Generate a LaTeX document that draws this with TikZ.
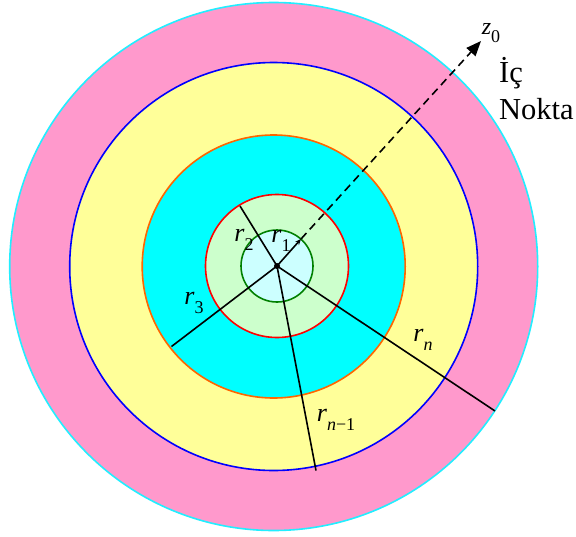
\documentclass[tikz,border=0pt]{standalone}
\usepackage{fontspec}
\setmainfont{Liberation Serif}
\usetikzlibrary{arrows.meta}
\definecolor{pinkring}{HTML}{FF99CC}
\definecolor{yellowring}{HTML}{FFFF99}
\definecolor{cyanring}{HTML}{00FFFF}
\definecolor{greenring}{HTML}{CCFFCC}
\definecolor{corefill}{HTML}{CCFFFF}
\definecolor{outerline}{HTML}{22EEFF}
\definecolor{blueline}{HTML}{0000FF}
\definecolor{orangeline}{HTML}{FF6600}
\definecolor{redline}{HTML}{FF0000}
\definecolor{greenline}{HTML}{008000}
\newcommand\rsub[2]{\textit{#1}\raisebox{-0.35em}{\fontsize{18}{18}\selectfont #2}}
\tikzset{
  ring/.style={line width=1.6pt},
  radius line/.style={line width=1.6pt, black},
  lbl/.style={inner sep=0pt, font=\fontsize{26}{30}\selectfont},
}
\begin{document}
\begin{tikzpicture}[x=1pt,y=-1pt]
\useasboundingbox (0,0) rectangle (576,536);
\coordinate (O) at (277,266);
\coordinate (P) at (273.7,266.5);
% fills
\fill[pinkring] (P) circle (264pt);
\fill[yellowring] (P) circle (204pt);
\fill[cyanring] (P) circle (131.5pt);
\fill[greenring] (O) circle (71.5pt);
\fill[corefill] (O) circle (36pt);
% borders
\draw[ring, outerline] (P) circle (264pt);
\draw[ring, blueline] (P) circle (204pt);
\draw[ring, orangeline] (P) circle (131.5pt);
\draw[ring, redline] (O) circle (71.5pt);
\draw[ring, greenline] (O) circle (36pt);
% end points
\coordinate (e1) at (301,239);
\coordinate (e2) at (240,206);
\coordinate (e3) at (171.5,346.5);
\coordinate (en1) at (316,470.5);
\coordinate (en) at (495,411);
\coordinate (ez) at (481,41);
% radii
\draw[radius line, -{Stealth[length=6pt,width=5pt]}] (O) -- (e1);
\draw[radius line] (O) -- (e2);
\draw[radius line] (O) -- (e3);
\draw[radius line] (O) -- (en1);
\draw[radius line] (O) -- (en);
\draw[radius line, dashed, dash pattern=on 8pt off 5pt, -{Triangle[length=15pt,width=12pt]}] (e1) -- (ez);
\fill (O) circle (3pt);
% labels
\node[lbl] (l1) at (281,241) {\rsub{r}{1}};
\node[lbl] (l2) at (244,240) {\rsub{r}{2}};
\node[lbl] (l3) at (194,303) {\rsub{r}{3}};
\node[lbl] (ln) at (423,340) {\rsub{r}{\textit{n}}};
\node[lbl] (ln1) at (336,420) {\rsub{r}{\textit{n}−1}};
\node[lbl, font=\fontsize{24}{28}\selectfont] (lz) at (491,33) {\rsub{z}{0}};
\node[anchor=base west, align=left, inner sep=0pt, font=\fontsize{30.5}{37}\selectfont] (txt) at (499,119) {İç\\Nokta};
\end{tikzpicture}
\end{document}
